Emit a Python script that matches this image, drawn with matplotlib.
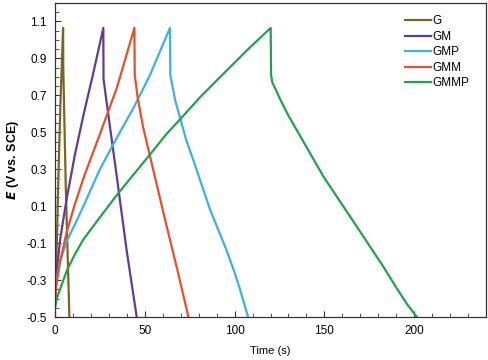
import matplotlib.pyplot as plt
from matplotlib.ticker import MultipleLocator

plt.rcParams['font.family'] = ['Liberation Sans', 'DejaVu Sans']

# galvanostatic charge/discharge curves
g_t = [0, 0.5, 1, 2, 3, 4.5, 4.6, 6, 8]
g_e = [-0.45, -0.25, -0.1, 0.3, 0.65, 1.065, 0.85, 0.2, -0.5]

gm_t = [0, 0.5, 1.5, 3, 6.5, 11.1, 16, 21.3, 26.9, 27.0, 28.5, 30.6, 34.4, 39.9, 45.5]
gm_e = [-0.42, -0.33, -0.2, -0.07, 0.14, 0.38, 0.60, 0.82, 1.065, 0.79, 0.68, 0.53, 0.26, -0.14, -0.5]

gmp_t = [0, 1, 2.8, 6.5, 11, 15.8, 25, 34.4, 43.6, 52.9, 64.0, 64.2, 65, 67, 69.6, 73, 77,
         86.4, 95.6, 100, 103, 107.5]
gmp_e = [-0.38, -0.29, -0.2, -0.09, 0.0, 0.1, 0.30, 0.47, 0.63, 0.81, 1.065, 0.81, 0.77, 0.67,
         0.58, 0.46, 0.35, 0.08, -0.14, -0.26, -0.35, -0.5]

gmm_t = [0, 1, 2.8, 6.5, 11, 16.5, 25, 34.4, 44.2, 44.4, 46, 49, 52.9, 62.2, 68, 74.3]
gmm_e = [-0.40, -0.31, -0.2, -0.04, 0.11, 0.27, 0.49, 0.74, 1.065, 0.81, 0.69, 0.53, 0.37, -0.01,
         -0.24, -0.5]

gmmp_t = [0, 1, 2.8, 6.5, 11.1, 15.8, 25, 34.4, 43.6, 52.9, 62, 71.5, 80.8, 90, 99.3, 108.6,
          120.1, 120.3, 121, 123, 125.3, 130, 136.5, 149.5, 168, 183, 190, 196, 201.5]
gmmp_e = [-0.45, -0.40, -0.35, -0.25, -0.16, -0.08, 0.04, 0.16, 0.27, 0.38, 0.49, 0.59, 0.69,
          0.78, 0.87, 0.96, 1.065, 0.81, 0.77, 0.73, 0.68, 0.59, 0.48, 0.26, -0.01, -0.23,
          -0.34, -0.43, -0.5]

series = [
    ("G", g_t, g_e, "#7d6325"),
    ("GM", gm_t, gm_e, "#5d3d96"),
    ("GMP", gmp_t, gmp_e, "#3fb0e0"),
    ("GMM", gmm_t, gmm_e, "#e6502c"),
    ("GMMP", gmmp_t, gmmp_e, "#23a24d"),
]

fig = plt.figure(figsize=(4.89, 3.6), dpi=100)
ax = fig.add_axes([0.1125, 0.1194, 0.8814, 0.8723])

for name, t, e, c in series:
    ax.plot(t, e, color=c, lw=1.6, label=name)

ax.set_xlim(0, 240)
ax.set_ylim(-0.5, 1.2)
ax.set_xticks([0, 50, 100, 150, 200])
ax.set_yticks([-0.5, -0.3, -0.1, 0.1, 0.3, 0.5, 0.7, 0.9, 1.1])
ax.set_yticklabels(["-0.5", "-0.3", "-0.1", "0.1", "0.3", "0.5", "0.7", "0.9", "1.1"])
ax.xaxis.set_minor_locator(MultipleLocator(10))
ax.yaxis.set_minor_locator(MultipleLocator(0.05))
ax.tick_params(which='both', direction='in', top=False, right=False, labelsize=8.5, color='#333333')
ax.tick_params(which='major', length=4, pad=6)
ax.tick_params(which='minor', length=3)
for s in ax.spines.values():
    s.set_color('#333333')
    s.set_linewidth(0.9)

ax.set_xlabel("Time (s)", fontsize=8, labelpad=6)
ax.set_ylabel(r"$\boldsymbol{E}$ (V vs. SCE)", fontsize=9, fontweight='bold')

leg = ax.legend(loc='upper right', frameon=False, fontsize=8.5, handlelength=2.2,
                handletextpad=0.1, labelspacing=0.3, borderaxespad=0.5,
                bbox_to_anchor=(0.985, 0.995))

fig.savefig("out.png", dpi=100)
